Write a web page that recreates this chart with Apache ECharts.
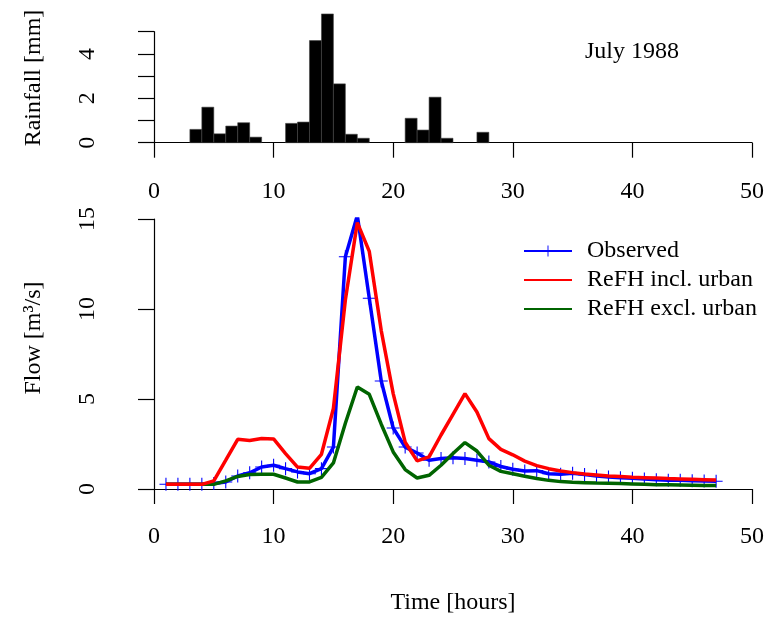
<!DOCTYPE html>
<html>
<head>
<meta charset="utf-8">
<script src="https://cdn.jsdelivr.net/npm/echarts@6/dist/echarts.min.js"></script>
<style>
html,body{margin:0;padding:0;background:#fff;}
#chart{width:767px;height:618px;}
</style>
</head>
<body>
<div id="chart"></div>
<script>
// Rainfall: hour at start of each 1-hour bar, and depth in mm
const rainHours = [3, 4, 5, 6, 7, 8, 11, 12, 13, 14, 15, 16, 17, 21, 22, 23, 24, 27];
const rainMm    = [0.6, 1.6, 0.4, 0.75, 0.9, 0.25, 0.87, 0.93, 4.6, 5.8, 2.65, 0.38, 0.2, 1.1, 0.57, 2.05, 0.2, 0.47];

// Flow series, hours 1..47
const flowHours = [1,2,3,4,5,6,7,8,9,10,11,12,13,14,15,16,17,18,19,20,21,22,23,24,25,26,27,28,29,30,31,32,33,34,35,36,37,38,39,40,41,42,43,44,45,46,47];
const observed = [0.26,0.26,0.26,0.26,0.3,0.39,0.72,0.9,1.22,1.32,1.13,0.95,0.85,1.13,2.33,12.9,15.2,10.6,6.0,3.39,2.33,2.0,1.6,1.69,1.74,1.69,1.6,1.5,1.25,1.1,1.0,1.02,0.85,0.82,0.88,0.8,0.72,0.67,0.63,0.6,0.55,0.52,0.49,0.48,0.46,0.44,0.43];
const refhIncl = [0.26,0.26,0.26,0.26,0.45,1.6,2.76,2.7,2.8,2.78,1.97,1.22,1.15,1.93,4.47,10.5,14.8,13.2,8.8,5.3,2.6,1.56,1.78,3.0,4.15,5.3,4.28,2.8,2.2,1.9,1.55,1.3,1.13,1.0,0.91,0.83,0.78,0.72,0.69,0.65,0.63,0.61,0.58,0.56,0.54,0.52,0.5];
const refhExcl = [0.26,0.26,0.26,0.26,0.26,0.45,0.7,0.8,0.82,0.82,0.61,0.39,0.39,0.65,1.45,3.65,5.67,5.26,3.6,2.06,1.08,0.61,0.76,1.32,1.97,2.58,2.11,1.32,0.98,0.85,0.71,0.58,0.48,0.41,0.37,0.35,0.33,0.32,0.3,0.28,0.26,0.24,0.23,0.22,0.21,0.2,0.2];

const xTicks = [0, 10, 20, 30, 40, 50];
const seriesNames = ['Observed', 'ReFH incl. urban', 'ReFH excl. urban'];

const FONT = 'Liberation Serif';
const FS = 24;
const pair = (xs, ys) => xs.map((x, i) => [x, ys[i]]);

const chart = echarts.init(document.getElementById('chart'), null, {renderer: 'canvas'});

const axisLineStyle = {color: '#000', width: 1.2};
function xAxisCfg(idx, margin) {
  return {
    type: 'value', gridIndex: idx, min: xTicks[0], max: xTicks[xTicks.length - 1], interval: 10,
    position: 'bottom',
    axisLine: {show: true, onZero: false, lineStyle: axisLineStyle},
    axisTick: {show: true, length: 15, inside: false, lineStyle: axisLineStyle},
    axisLabel: {show: true, margin: margin, color: '#000', fontFamily: FONT, fontSize: FS},
    splitLine: {show: false}
  };
}

const plusPath = 'path://M5.5,0 h1 v5.5 h5.5 v1 h-5.5 v5.5 h-1 v-5.5 h-5.5 v-1 h5.5 z';

const option = {
  animation: false,
  backgroundColor: '#fff',
  textStyle: {fontFamily: FONT},
  grid: [
    {left: 154, width: 598, top: 31.7, height: 111},
    {left: 154, width: 598, top: 219, height: 270}
  ],
  xAxis: [xAxisCfg(0, 37), xAxisCfg(1, 36)],
  yAxis: [
    {
      type: 'value', gridIndex: 0, min: 0, max: 5, interval: 1, position: 'left', offset: 23,
      axisLine: {show: true, lineStyle: axisLineStyle},
      axisTick: {show: true, length: 16, lineStyle: axisLineStyle},
      axisLabel: {show: true, rotate: 90, margin: 31, color: '#000', fontFamily: FONT, fontSize: FS,
        formatter: v => (v % 2 === 0 ? String(v) : '')},
      splitLine: {show: false}
    },
    {
      type: 'value', gridIndex: 1, min: 0, max: 15, interval: 5, position: 'left', offset: 23,
      axisLine: {show: true, lineStyle: axisLineStyle},
      axisTick: {show: true, length: 16, lineStyle: axisLineStyle},
      axisLabel: {show: true, rotate: 90, margin: 31, color: '#000', fontFamily: FONT, fontSize: FS},
      splitLine: {show: false}
    }
  ],
  legend: {
    data: [
      {name: seriesNames[0]},
      {name: seriesNames[1], itemStyle: {opacity: 0}},
      {name: seriesNames[2], itemStyle: {opacity: 0}}
    ],
    orient: 'vertical',
    left: 518, top: 234,
    itemWidth: 48, itemHeight: 14, itemGap: 5,
    textStyle: {fontFamily: FONT, fontSize: FS, color: '#000', padding: [0, 0, 0, 10]},
    inactiveColor: '#ccc'
  },
  graphic: [
    {type: 'text', x: 34, y: 78, rotation: Math.PI / 2,
      style: {text: 'Rainfall [mm]', fontFamily: FONT, fontSize: FS, fill: '#000', align: 'center', verticalAlign: 'middle'}},
    {type: 'text', x: 34, y: 338, rotation: Math.PI / 2,
      style: {text: 'Flow [m\u00B3/s]', fontFamily: FONT, fontSize: FS, fill: '#000', align: 'center', verticalAlign: 'middle'}},
    {type: 'text', x: 453, y: 603,
      style: {text: 'Time [hours]', fontFamily: FONT, fontSize: FS, fill: '#000', align: 'center', verticalAlign: 'middle'}},
    {type: 'text', x: 632, y: 52,
      style: {text: 'July 1988', fontFamily: FONT, fontSize: FS, fill: '#000', align: 'center', verticalAlign: 'middle'}}
  ],
  series: [
    {
      type: 'custom', name: 'Rainfall', xAxisIndex: 0, yAxisIndex: 0, clip: false,
      data: pair(rainHours, rainMm),
      renderItem: function (params, api) {
        const h = api.value(0), v = api.value(1);
        const p0 = api.coord([h, v]);
        const p1 = api.coord([h + 1, 0]);
        return {type: 'rect', shape: {x: p0[0], y: p0[1], width: p1[0] - p0[0], height: p1[1] - p0[1]},
          style: {fill: '#000', stroke: '#444', lineWidth: 0.6}};
      }
    },
    {
      type: 'line', name: seriesNames[0], xAxisIndex: 1, yAxisIndex: 1,
      data: pair(flowHours, observed),
      symbol: plusPath, symbolSize: 13, showSymbol: true, showAllSymbol: true,
      itemStyle: {color: '#0000ff', borderWidth: 0},
      lineStyle: {color: '#0000ff', width: 3.5},
      z: 2
    },
    {
      type: 'line', name: seriesNames[2], xAxisIndex: 1, yAxisIndex: 1,
      data: pair(flowHours, refhExcl),
      symbol: 'none',
      itemStyle: {color: '#006400'},
      lineStyle: {color: '#006400', width: 3.5},
      z: 3
    },
    {
      type: 'line', name: seriesNames[1], xAxisIndex: 1, yAxisIndex: 1,
      data: pair(flowHours, refhIncl),
      symbol: 'none',
      itemStyle: {color: '#ff0000'},
      lineStyle: {color: '#ff0000', width: 3.5},
      z: 4
    }
  ]
};
chart.setOption(option);
</script>
</body>
</html>
